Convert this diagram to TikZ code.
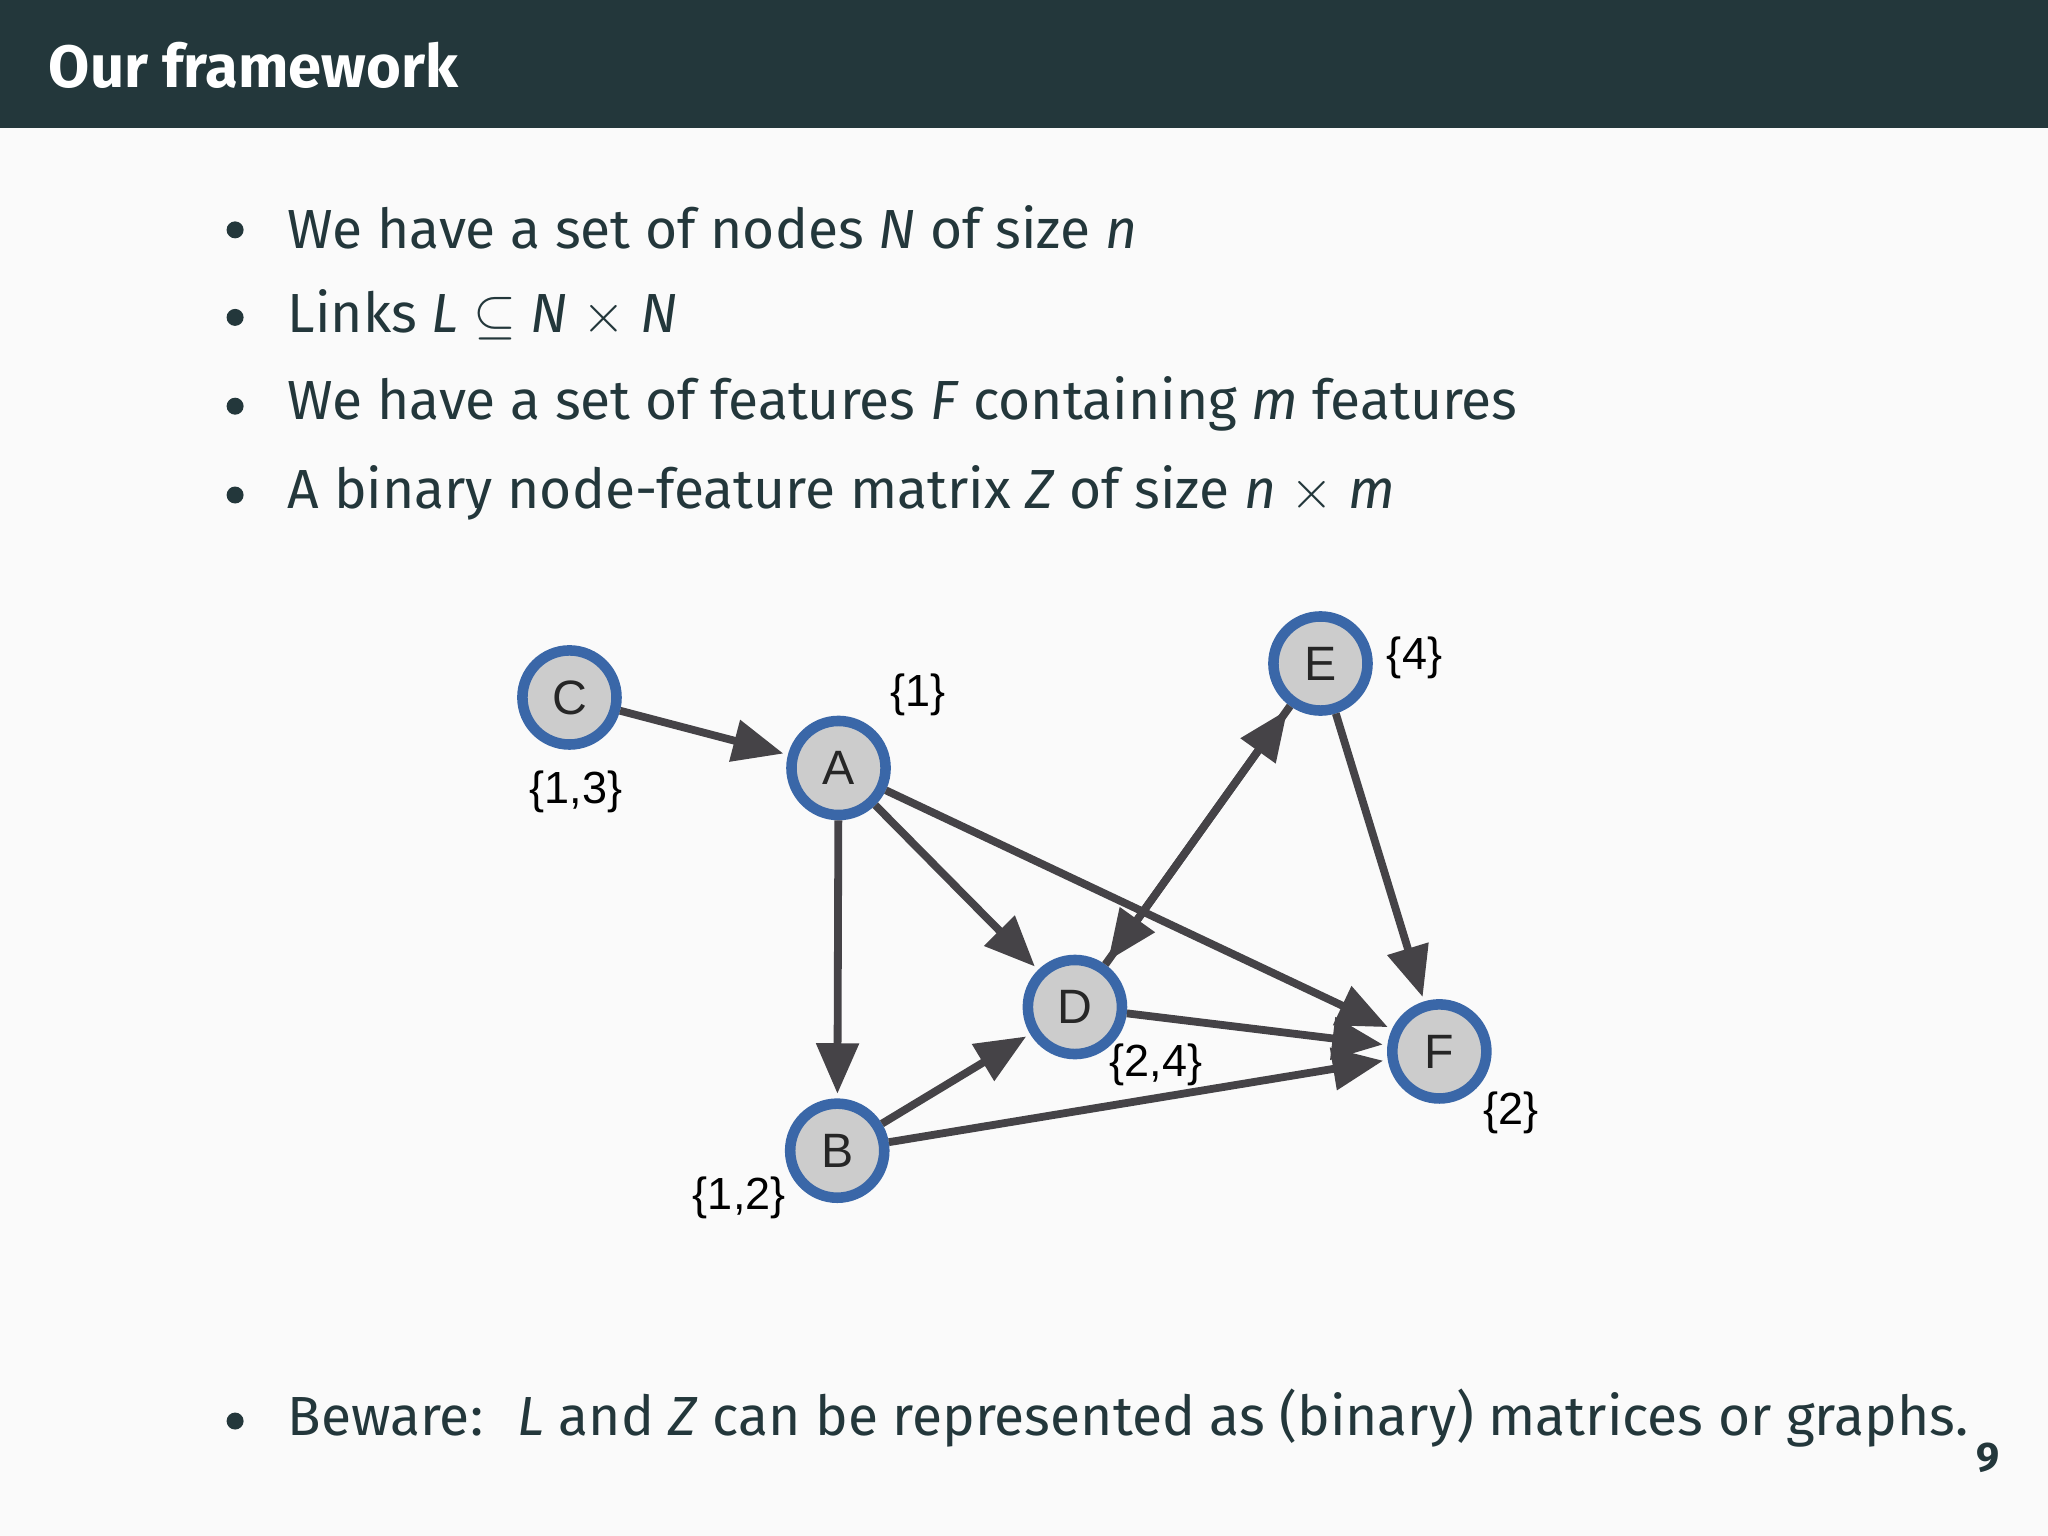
\documentclass[tikz,border=0pt]{standalone}
\usepackage{fontspec}
\setmainfont{Fira Sans}
\newfontfamily\arial{Liberation Sans}
\usetikzlibrary{arrows.meta}
\definecolor{hdr}{HTML}{23373B}
\definecolor{bg}{HTML}{FAFAFA}
\definecolor{nodeb}{HTML}{3A67A8}
\definecolor{edg}{HTML}{454347}
\tikzset{
 gnode/.style={circle,draw=nodeb,line width=2.3pt,fill=black!20,minimum size=0.72cm,inner sep=0pt,font=\arial\fontsize{10.5}{12}\selectfont,text=black!85},
 glab/.style={font=\arial\fontsize{9.8}{12}\selectfont,text=black},
 gedge/.style={draw=edg,line width=1.7pt,-{Triangle[length=11pt,width=9pt]},shorten >=1pt},
 btxt/.style={anchor=west,font=\fontsize{12}{14}\selectfont,text=hdr},
 bul/.style={circle,fill=hdr,inner sep=0pt,minimum size=0.13cm}
}
\newcommand{\mi}[1]{\textit{#1}}
\begin{document}
\begin{tikzpicture}[x=0.01cm,y=-0.01cm]
\fill[bg] (0,0) rectangle (1568,1176);
\useasboundingbox (0,0) rectangle (1568,1176);
\fill[hdr] (0,0) rectangle (1568,98);
\node[anchor=west,text=white,font=\fontsize{13}{15}\selectfont\bfseries] (title) at (25,50) {Our framework};
\node[bul] (b1) at (180,176) {}; \node[btxt] (t1) at (208,174) {We have a set of nodes \mi{N} of size \mi{n}};
\node[bul] (b2) at (180,243) {}; \node[btxt] (t2) at (208,241) {Links \mi{L} $\subseteq$ \mi{N} $\times$ \mi{N}};
\node[bul] (b3) at (180,311) {}; \node[btxt] (t3) at (208,309) {We have a set of features \mi{F} containing \mi{m} features};
\node[bul] (b4) at (180,379) {}; \node[btxt] (t4) at (208,377) {A binary node-feature matrix \mi{Z} of size \mi{n} $\times$ \mi{m}};
\node[bul] (b5) at (180,1088) {}; \node[btxt] (t5) at (208,1086) {Beware: \ \mi{L} and \mi{Z} can be represented as (binary) matrices or graphs.};
\node[font=\fontsize{9}{11}\selectfont\bfseries,text=hdr] (pg) at (1522,1116) {9};

\node[gnode] (C) at (436,534) {C};
\node[gnode] (A) at (642,588) {A};
\node[gnode] (E) at (1011,508) {E};
\node[gnode] (D) at (823,771) {D};
\node[gnode] (F) at (1102,805) {F};
\node[gnode] (B) at (641,881) {B};
\node[glab] (lC) at (441,606) {\{1,3\}};
\node[glab] (lA) at (703,532) {\{1\}};
\node[glab] (lE) at (1083,504) {\{4\}};
\node[glab] (lD) at (885,815) {\{2,4\}};
\node[glab] (lF) at (1157,852) {\{2\}};
\node[glab] (lB) at (566,917) {\{1,2\}};

\draw[gedge] (C) -- (A);
\draw[gedge] (A) -- (B);
\draw[gedge] (A) -- (D);
\draw[gedge] (A) -- (F);
\draw[gedge] (B) -- (D);
\draw[gedge] (B) -- (F);
\draw[gedge] (D) -- (F);
\draw[gedge] (D) -- (E);
\draw[gedge] (E) -- (D);
\draw[gedge] (E) -- (F);
\end{tikzpicture}
\end{document}
